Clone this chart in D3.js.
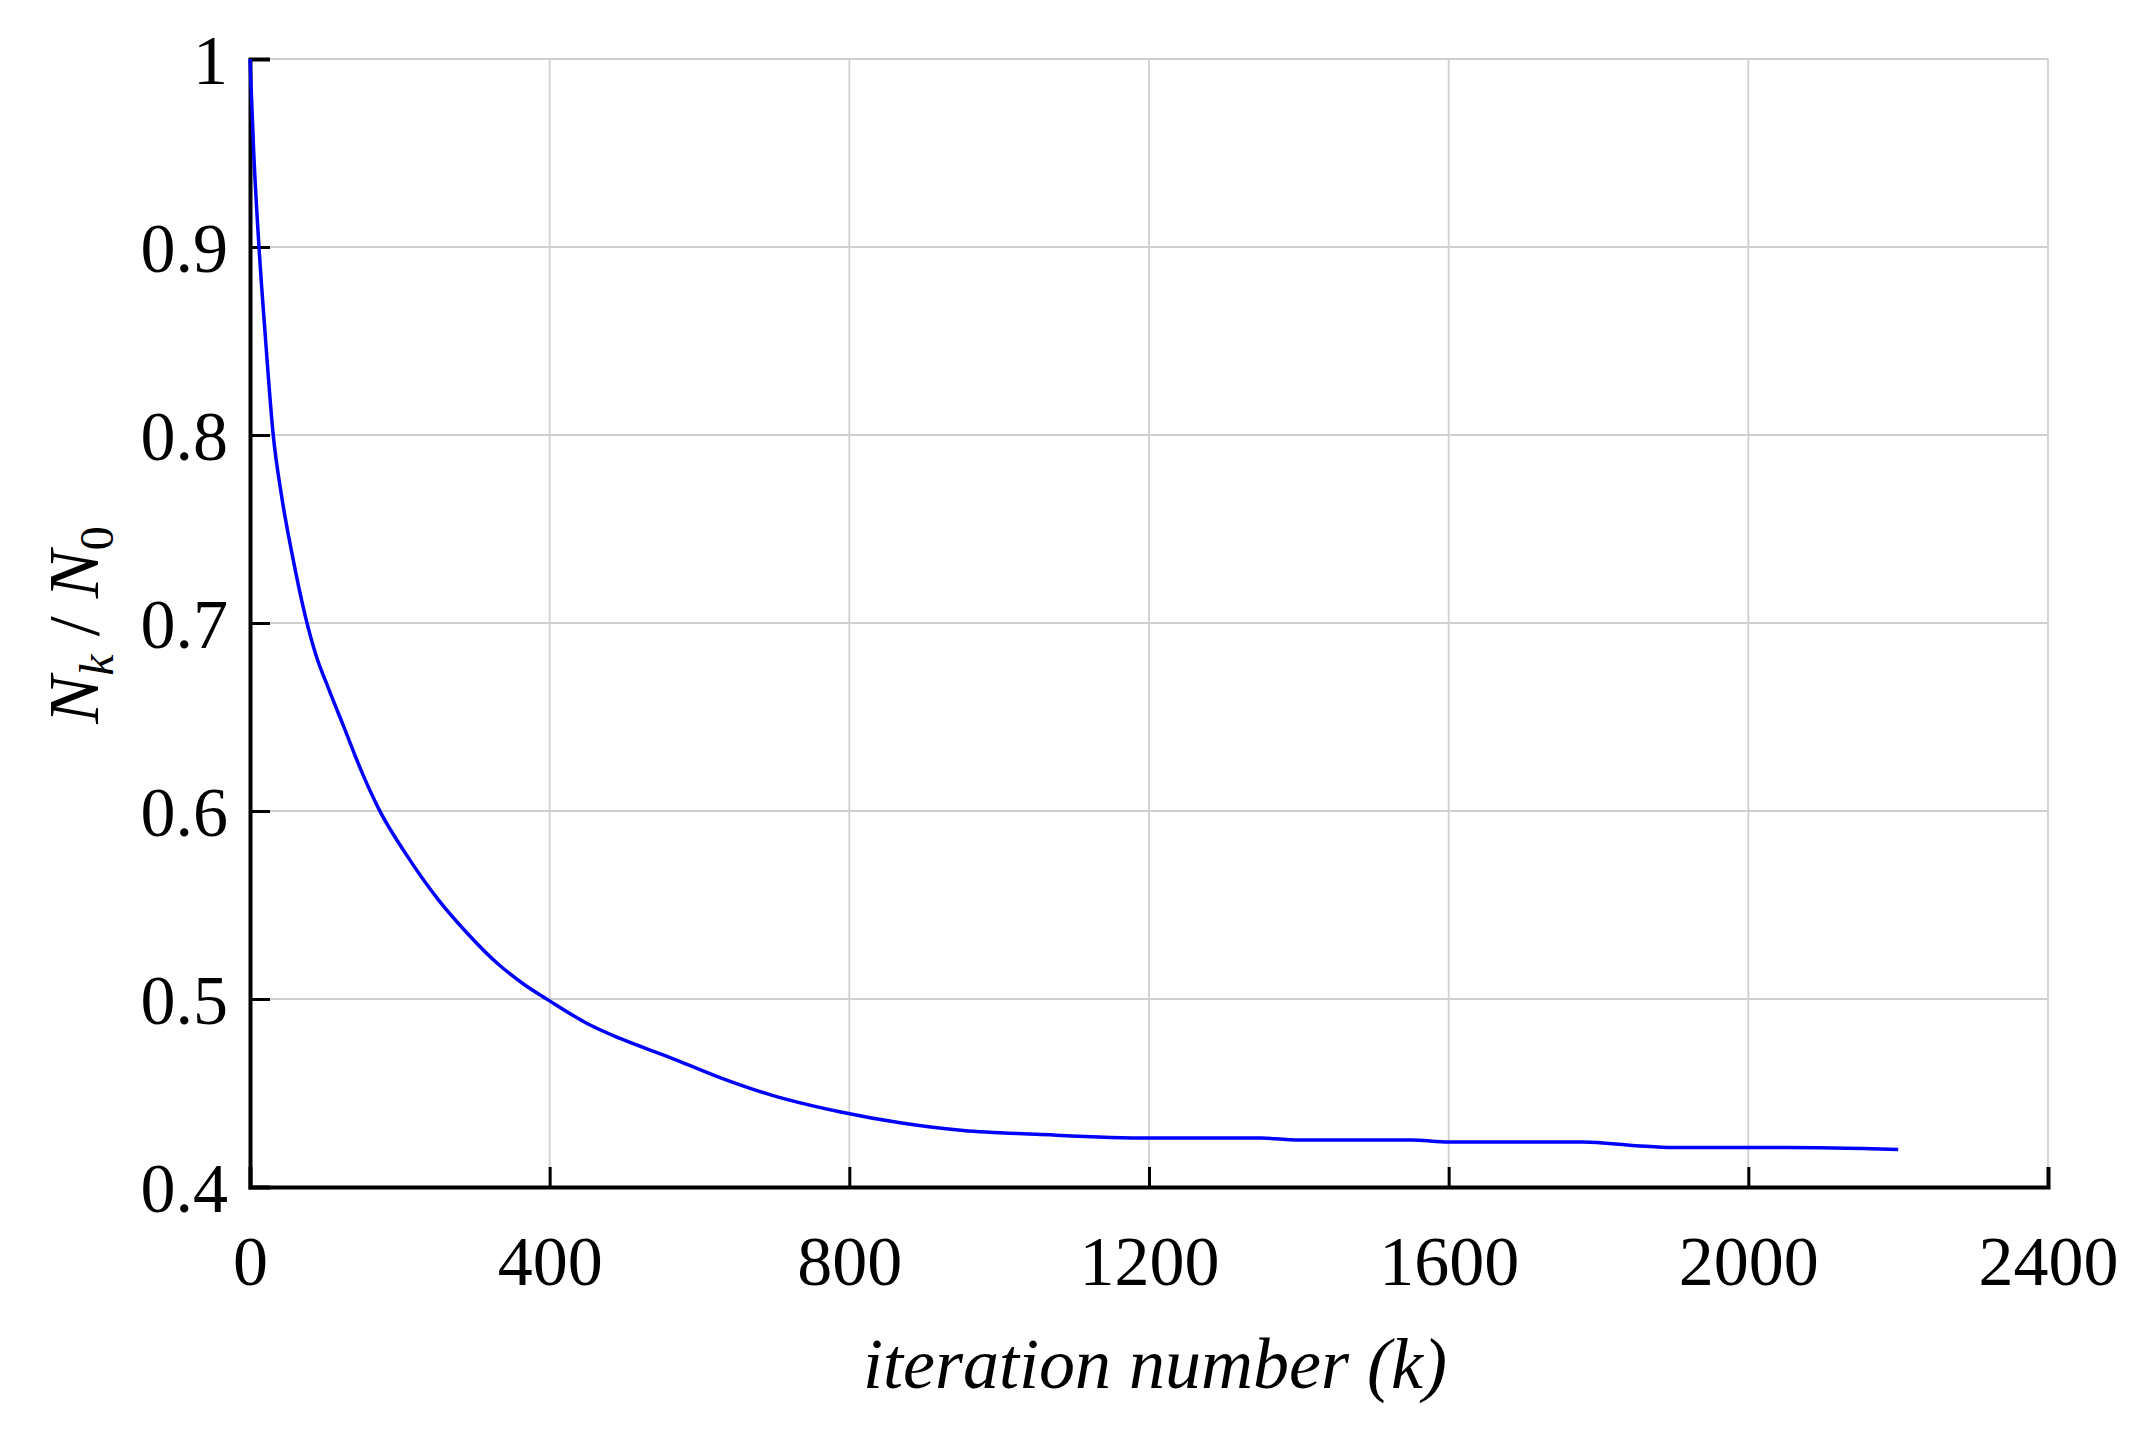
<!DOCTYPE html>
<html>
<head>
<meta charset="utf-8">
<script src="https://cdn.jsdelivr.net/npm/d3@7"></script>
<style>
  body { margin: 0; background: #fff; }
  text { font-family: "Liberation Serif", "DejaVu Serif", serif; }
</style>
</head>
<body>
<div id="chart-area"></div>
<script>
// values
const iterations = [0, 5, 12, 20, 31, 42, 57, 73, 88, 105, 125, 150, 172, 210, 251, 290, 330, 365, 400, 450, 494, 560, 622, 695, 787, 870, 952, 1050, 1200, 1350, 1400, 1550, 1600, 1780, 1850, 1900, 2050, 2200];
const ratios = [1.0, 0.95, 0.9, 0.855, 0.8, 0.768, 0.735, 0.705, 0.683, 0.665, 0.645, 0.62, 0.601, 0.576, 0.553, 0.535, 0.519, 0.508, 0.499, 0.487, 0.479, 0.469, 0.459, 0.449, 0.44, 0.434, 0.43, 0.428, 0.426, 0.426, 0.425, 0.425, 0.424, 0.424, 0.422, 0.421, 0.421, 0.42];
const xTicks = [0, 400, 800, 1200, 1600, 2000, 2400];
const yTicks = [0.4, 0.5, 0.6, 0.7, 0.8, 0.9, 1];

const margin = {left: 250, right: 108, top: 59, bottom: 245};
let width = 2156 - margin.left - margin.right;
let height = 1432 - margin.top - margin.bottom;

let svg = d3.select('#chart-area')
    .append('svg')
        .attr('width', 2156)
        .attr('height', 1432);
let g = svg.append('g')
    .attr('transform', `translate(${margin.left}, ${margin.top})`);

const x = d3.scaleLinear().domain([0, 2400]).range([0, width]);
const y = d3.scaleLinear().domain([0.4, 1]).range([height, 0]);

// grid
g.append('g')
    .selectAll('line.vg')
    .data(xTicks.slice(1))
    .enter().append('line')
        .attr('x1', d => x(d)).attr('x2', d => x(d))
        .attr('y1', 0).attr('y2', height)
        .attr('stroke', '#d0d0d0').attr('stroke-width', 1.8);
g.append('g')
    .selectAll('line.hg')
    .data(yTicks.slice(1))
    .enter().append('line')
        .attr('x1', 0).attr('x2', width)
        .attr('y1', d => y(d)).attr('y2', d => y(d))
        .attr('stroke', '#d0d0d0').attr('stroke-width', 1.8);

// axes
const xAxisCall = d3.axisBottom(x).tickValues(xTicks).tickSize(-20).tickPadding(48).tickFormat(d3.format('d'));
let xa = g.append('g')
    .attr('transform', `translate(0, ${height})`)
    .call(xAxisCall);
xa.select('.domain').attr('stroke-width', 4);
xa.selectAll('.tick line').attr('stroke-width', 3);
xa.selectAll('text').attr('font-size', 70).attr('fill', '#000');

const yAxisCall = d3.axisLeft(y).tickValues(yTicks).tickSize(-20).tickPadding(22).tickFormat(d => d === 1 ? '1' : d3.format('.1f')(d));
let ya = g.append('g').call(yAxisCall);
ya.select('.domain').attr('stroke-width', 4);
ya.selectAll('.tick line').attr('stroke-width', 3);
ya.selectAll('text').attr('font-size', 70).attr('fill', '#000').attr('dy', '0.35em');

// line
const line = d3.line()
    .x((d, i) => x(iterations[i]))
    .y(d => y(d))
    .curve(d3.curveMonotoneX);
g.append('path')
    .datum(ratios)
    .attr('d', line)
    .attr('fill', 'none')
    .attr('stroke', '#0000ff')
    .attr('stroke-width', 3.5);

// X Label
svg.append('text')
    .attr('x', 1155)
    .attr('y', 1388)
    .attr('font-size', 72)
    .attr('font-style', 'italic')
    .attr('text-anchor', 'middle')
    .text('iteration number (k)');

// Y Label
let yl = svg.append('text')
    .attr('transform', 'translate(98, 625) rotate(-90)')
    .attr('font-size', 72)
    .attr('font-style', 'italic')
    .attr('text-anchor', 'middle');
yl.append('tspan').text('N');
yl.append('tspan').attr('font-size', 48).attr('dy', 15).text('k');
yl.append('tspan').attr('dy', -15).attr('font-style', 'normal').text(' / ');
yl.append('tspan').text('N');
yl.append('tspan').attr('font-size', 48).attr('dy', 15).attr('font-style', 'normal').text('0');
</script>
</body>
</html>
